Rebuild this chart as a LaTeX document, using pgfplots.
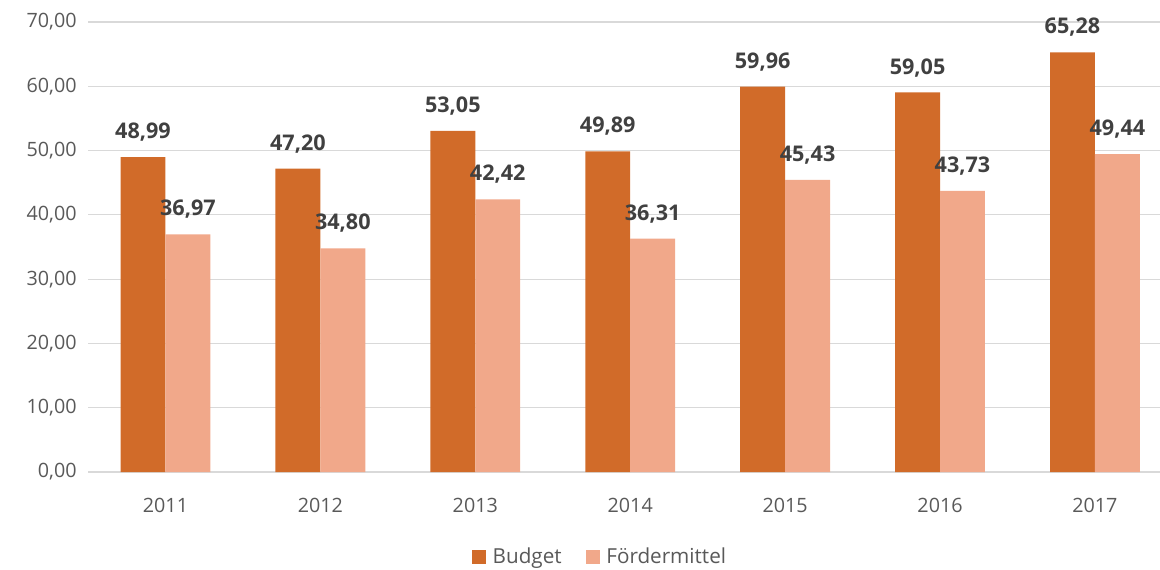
\documentclass[border=0pt]{standalone}
\usepackage{pgfplots}
\pgfplotsset{compat=1.18}
\usepackage{fontspec}
\setmainfont{Open Sans}
\definecolor{budget}{RGB}{209,107,41}
\definecolor{foerder}{RGB}{241,168,138}
\definecolor{gridc}{RGB}{217,217,217}
\definecolor{tickc}{RGB}{89,89,89}
\definecolor{labc}{RGB}{64,64,64}
\begin{document}
\begin{tikzpicture}
\useasboundingbox (0,0) rectangle (870pt,426.75pt);
\begin{axis}[
  at={(66pt,72.75pt)}, anchor=south west,
  scale only axis, width=804pt, height=337.5pt,
  xmin=-0.5, xmax=6.42, ymin=0, ymax=70,
  ytick={0,10,...,70},
  xtick={0,...,6},
  xticklabels={2011,2012,2013,2014,2015,2016,2017},
  axis line style={draw=none},
  major tick length=0pt,
  ymajorgrids, grid style={gridc, line width=0.9pt},
  /pgf/number format/assume math mode=true,
  yticklabel style={/pgf/number format/use comma, /pgf/number format/fixed, /pgf/number format/fixed zerofill, /pgf/number format/precision=2, xshift=-5pt},
  ticklabel style={font=\fontsize{14.8pt}{16pt}\selectfont, text=tickc},
  xticklabel style={yshift=-16pt},
  ybar, bar width=0.29,
  nodes near coords,
  nodes near coords style={font=\fontsize{16.2pt}{18pt}\selectfont\bfseries, text=labc, anchor=south, inner sep=0pt, yshift=11.5pt,
    /pgf/number format/use comma, /pgf/number format/fixed, /pgf/number format/fixed zerofill, /pgf/number format/precision=2, /pgf/number format/assume math mode=true},
  legend style={at={(axis description cs:0.478,-0.188)}, anchor=center, draw=none, legend columns=2,
    font=\fontsize{15.5pt}{17pt}\selectfont, text=tickc,
    /tikz/every even column/.append style={column sep=16pt}},
  legend image code/.code={\fill[#1] (0pt,-5.3pt) rectangle (10.5pt,5.3pt);},
  legend cell align=left,
]
\addplot[fill=budget, draw=none, bar shift=-0.145] coordinates {(0,48.99) (1,47.20) (2,53.05) (3,49.89) (4,59.96) (5,59.05) (6,65.28)};
\addplot[fill=foerder, draw=none, bar shift=0.145] coordinates {(0,36.97) (1,34.80) (2,42.42) (3,36.31) (4,45.43) (5,43.73) (6,49.44)};
\legend{\hspace{3pt}Budget, \hspace{3pt}Fördermittel}
\end{axis}
\end{tikzpicture}
\end{document}
